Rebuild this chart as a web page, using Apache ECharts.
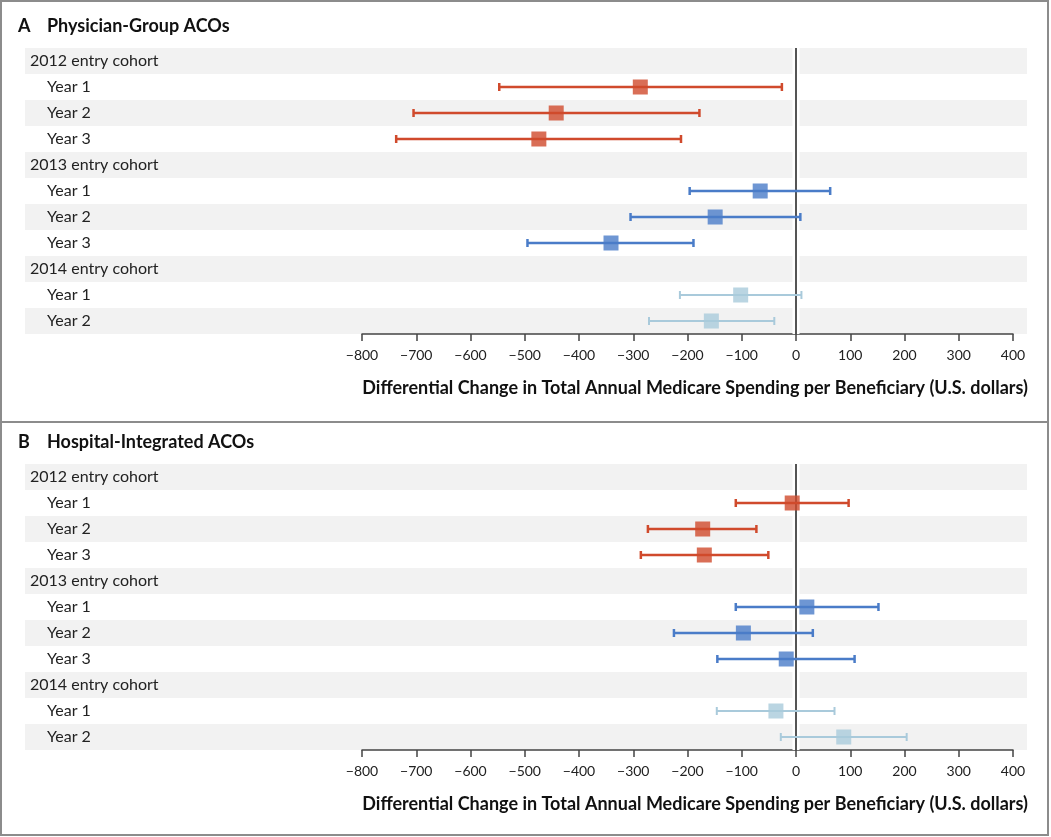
<!DOCTYPE html>
<html>
<head>
<meta charset="utf-8">
<script src="https://cdn.jsdelivr.net/npm/echarts@6/dist/echarts.min.js"></script>
<style>
html,body{margin:0;padding:0;background:#fff;}
#chart{width:1051px;height:837px;}
</style>
</head>
<body>
<div id="chart"></div>
<script>
// ---- data ----
const rowLabels = ['2012 entry cohort','Year 1','Year 2','Year 3','2013 entry cohort','Year 1','Year 2','Year 3','2014 entry cohort','Year 1','Year 2'];
const cohortRows = [0, 4, 8];
const pointRows = [1, 2, 3, 5, 6, 7, 9, 10];
const pointCohort = [0, 0, 0, 1, 1, 1, 2, 2];
const xTicks = [-800,-700,-600,-500,-400,-300,-200,-100,0,100,200,300,400];
const referenceValue = [0];

const physEst  = [-287, -442, -474,  -66, -149, -341, -102, -156];
const physLow  = [-547, -705, -737, -196, -305, -495, -214, -271];
const physHigh = [ -26, -178, -212,   63,    8, -189,   10,  -40];

const hospEst  = [  -7, -172, -169,   20,  -97,  -18,  -37,   88];
const hospLow  = [-111, -273, -286, -111, -225, -145, -146,  -28];
const hospHigh = [  97,  -73,  -51,  152,   31,  108,   71,  204];

const panelTitles = ['Physician-Group ACOs', 'Hospital-Integrated ACOs'];
const panelLetters = ['A', 'B'];
const axisTitle = 'Differential Change in Total Annual Medicare Spending per Beneficiary (U.S. dollars)';

// ---- styling ----
const cohortColors = ['#d04a2c', '#4a7cc8', '#a9cadb'];
const whiskerWidths = [2.5, 2.5, 2];
const FONT = 'Lato';
const panelTops = [48, 464];
const rowH = 26;
const gridH = rowH * rowLabels.length;

const chart = echarts.init(document.getElementById('chart'), null, {renderer: 'canvas'});

const grids = [], xAxes = [], yAxes = [], series = [], titles = [];

[ [physEst, physLow, physHigh], [hospEst, hospLow, hospHigh] ].forEach((p, k) => {
  const top = panelTops[k];
  const [est, low, high] = p;
  const bandIdx = k * 2, dataIdx = k * 2 + 1;
  grids.push({left: 25, right: 24, top: top, height: gridH});
  grids.push({left: 362, right: 38, top: top, height: gridH});

  xAxes.push({gridIndex: bandIdx, type: 'value', min: 0, max: 1, show: false});
  xAxes.push({
    gridIndex: dataIdx, type: 'value', min: xTicks[0], max: xTicks[xTicks.length - 1], interval: 100,
    axisLine: {show: true, onZero: false, lineStyle: {color: '#444', width: 1.5}},
    axisTick: {show: true, length: 7, lineStyle: {color: '#444', width: 1.5}},
    axisLabel: {
      margin: 14, color: '#222', fontFamily: FONT, fontSize: 14,
      formatter: v => (v < 0 ? '\u2212' + Math.abs(v) : String(v))
    },
    splitLine: {show: false}
  });
  yAxes.push({
    gridIndex: bandIdx, type: 'category', inverse: true, data: rowLabels,
    axisLine: {show: false}, axisTick: {show: false}, splitLine: {show: false},
    splitArea: {show: true, interval: 0, areaStyle: {color: ['#f2f2f2', '#ffffff']}},
    axisLabel: {
      inside: true, margin: 5, interval: 0, color: '#222', fontFamily: FONT, fontSize: 16,
      formatter: (v, i) => cohortRows.includes(i) ? '{c|' + v + '}' : '{y|' + v + '}',
      rich: {
        c: {fontFamily: FONT, fontSize: 16, color: '#222'},
        y: {fontFamily: FONT, fontSize: 16, color: '#222', padding: [0, 0, 0, 17]}
      }
    }
  });
  yAxes.push({
    gridIndex: dataIdx, type: 'category', inverse: true, data: rowLabels, show: false
  });

  // zero reference line with white gap, drawn beneath whiskers
  series.push({
    type: 'custom', xAxisIndex: dataIdx, yAxisIndex: dataIdx, z: 1, silent: true,
    data: referenceValue.map(v => [v, 0]),
    renderItem: (params, api) => {
      const pt = api.coord([api.value(0), api.value(1)]);
      const cs = params.coordSys;
      return {
        type: 'group',
        children: [
          {type: 'rect', shape: {x: pt[0] - 3.5, y: cs.y, width: 7, height: cs.height}, style: {fill: '#ffffff'}},
          {type: 'line', shape: {x1: pt[0], y1: cs.y, x2: pt[0], y2: cs.y + cs.height}, style: {stroke: '#555', lineWidth: 2}}
        ]
      };
    }
  });

  // whiskers
  series.push({
    type: 'custom', xAxisIndex: dataIdx, yAxisIndex: dataIdx, z: 3,
    data: pointRows.map((r, i) => [low[i], high[i], r, pointCohort[i]]),
    renderItem: (params, api) => {
      const lo = api.coord([api.value(0), api.value(2)]);
      const hi = api.coord([api.value(1), api.value(2)]);
      const c = api.value(3);
      const color = cohortColors[c];
      const w = whiskerWidths[c];
      const capH = 4;
      return {
        type: 'group',
        children: [
          {type: 'line', shape: {x1: lo[0], y1: lo[1], x2: hi[0], y2: hi[1]}, style: {stroke: color, lineWidth: w}},
          {type: 'line', shape: {x1: lo[0], y1: lo[1] - capH, x2: lo[0], y2: lo[1] + capH}, style: {stroke: color, lineWidth: w}},
          {type: 'line', shape: {x1: hi[0], y1: hi[1] - capH, x2: hi[0], y2: hi[1] + capH}, style: {stroke: color, lineWidth: w}}
        ]
      };
    }
  });
  // point estimates
  series.push({
    type: 'scatter', xAxisIndex: dataIdx, yAxisIndex: dataIdx, z: 4,
    symbol: 'rect', symbolSize: 15,
    data: pointRows.map((r, i) => ({value: [est[i], r], itemStyle: {color: cohortColors[pointCohort[i]]}}))
  });

  titles.push({
    text: '{l|' + panelLetters[k] + '}{t|' + panelTitles[k] + '}',
    left: 13, top: top - 36,
    textStyle: {
      rich: {
        l: {fontFamily: FONT, fontWeight: 'bold', fontSize: 18, color: '#111', width: 29},
        t: {fontFamily: FONT, fontWeight: 'bold', fontSize: 18, color: '#111'}
      }
    }
  });
  titles.push({
    text: axisTitle, right: 18, top: top + gridH + 40,
    textStyle: {fontFamily: FONT, fontWeight: 'bold', fontSize: 18, color: '#111'}
  });
});

chart.setOption({
  animation: false,
  backgroundColor: '#ffffff',
  title: titles,
  grid: grids,
  xAxis: xAxes,
  yAxis: yAxes,
  series: series,
  graphic: [
    {type: 'rect', shape: {x: 1, y: 1, width: 1047, height: 834}, style: {fill: null, stroke: '#8c8c8c', lineWidth: 2}, z: 100},
    {type: 'line', shape: {x1: 1, y1: 422, x2: 1048, y2: 422}, style: {stroke: '#8c8c8c', lineWidth: 2}, z: 100}
  ]
});
</script>
</body>
</html>
